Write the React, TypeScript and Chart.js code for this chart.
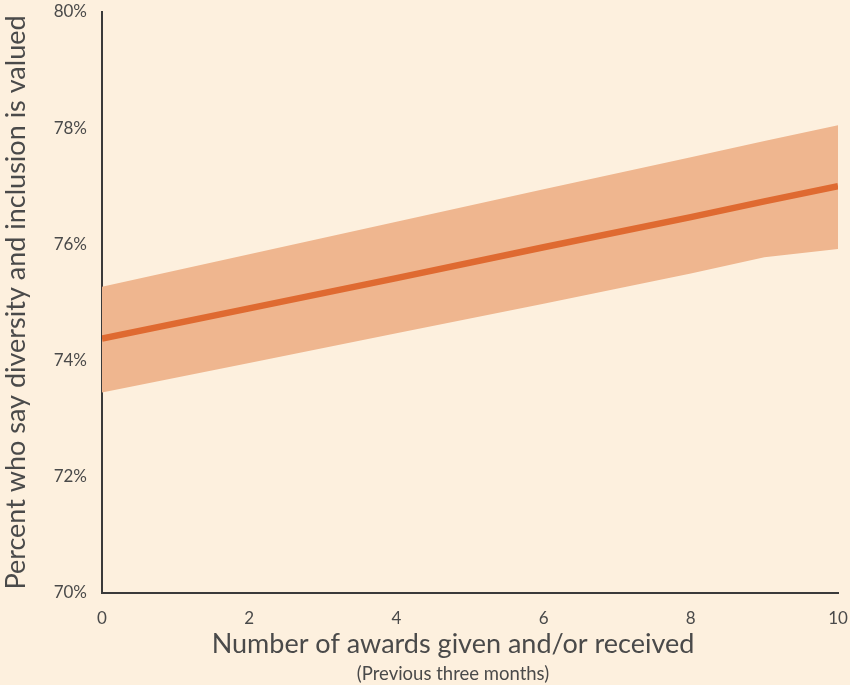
import React, { useEffect, useRef } from "react";
import { Chart, registerables } from "chart.js";

Chart.register(...registerables);

const xValues = [0, 2, 4, 6, 8, 9, 10];
const fitLine = [74.38, 74.9, 75.42, 75.95, 76.47, 76.74, 77.0];
const upperBand = [75.27, 75.83, 76.39, 76.95, 77.5, 77.78, 78.05];
const lowerBand = [73.45, 73.96, 74.47, 74.98, 75.5, 75.78, 75.92];
const yTicksMin = 70;
const yTicksMax = 80;
const xTitle = "Number of awards given and/or received";
const xSubtitle = "(Previous three months)";
const yTitle = "Percent who say diversity and inclusion is valued";

const BG = "#FDF0DE";
const TEXT = "#4a4a4a";
const FONT = "Lato, 'Noto Sans', sans-serif";

const bottomTitles = {
  id: "bottomTitles",
  afterDraw(chart: any) {
    const { ctx, chartArea } = chart;
    const cx = (chartArea.left + chartArea.right) / 2 - 17;
    ctx.save();
    ctx.fillStyle = TEXT;
    ctx.textAlign = "center";
    ctx.textBaseline = "middle";
    ctx.font = `27px ${FONT}`;
    ctx.fillText(xTitle, cx, chartArea.bottom + 51);
    ctx.font = `18.5px ${FONT}`;
    ctx.fillText(xSubtitle, cx, chartArea.bottom + 81);
    ctx.restore();
  },
};

export default function App() {
  const ref = useRef<HTMLCanvasElement | null>(null);
  useEffect(() => {
    document.body.style.margin = "0";
    document.body.style.background = BG;
    const pts = (arr: number[]) => xValues.map((x, i) => ({ x, y: arr[i] }));
    const chart = new Chart(ref.current!, {
      type: "line",
      data: {
        datasets: [
          {
            label: "upper",
            data: pts(upperBand),
            borderWidth: 0,
            pointRadius: 0,
            backgroundColor: "#EFB68F",
            fill: "+1",
            order: 2,
          },
          {
            label: "lower",
            data: pts(lowerBand),
            borderWidth: 0,
            pointRadius: 0,
            backgroundColor: "#EFB68F",
            fill: false,
            order: 2,
          },
          {
            label: "fit",
            data: pts(fitLine),
            borderColor: "#DF6A31",
            borderWidth: 6.5,
            pointRadius: 0,
            fill: false,
            order: 1,
          },
        ],
      },
      options: {
        animation: false,
        responsive: false,
        layout: { padding: { top: 12, right: 12, bottom: 0, left: 0 } },
        plugins: {
          legend: { display: false },
          tooltip: { enabled: false },
        },
        scales: {
          x: {
            type: "linear",
            min: 0,
            max: 10,
            ticks: {
              stepSize: 2,
              color: TEXT,
              font: { family: FONT, size: 17 },
              padding: 15,
            },
            grid: { display: false, drawTicks: false },
            border: { display: true, color: "#3a3a3a", width: 2 },
            title: { display: false },
            afterFit: (s: any) => {
              s.height = 92;
              s.paddingLeft = 0;
              s.paddingRight = 0;
            },
          },
          y: {
            min: yTicksMin,
            max: yTicksMax,
            ticks: {
              stepSize: 2,
              color: TEXT,
              font: { family: FONT, size: 17 },
              padding: 15,
              callback: (v: any) => v + "%",
            },
            grid: { display: false, drawTicks: false },
            border: { display: true, color: "#3a3a3a", width: 2 },
            title: {
              display: true,
              text: yTitle,
              color: TEXT,
              font: { family: FONT, size: 27 },
              padding: { top: 0, bottom: 0 },
            },
            afterFit: (s: any) => {
              s.width = 102;
              s.paddingTop = 0;
              s.paddingBottom = 0;
            },
          },
        },
      },
      plugins: [bottomTitles],
    });
    return () => chart.destroy();
  }, []);
  return (
    <div style={{ width: 850, height: 685, background: BG }}>
      <canvas ref={ref} width={850} height={685} />
    </div>
  );
}
